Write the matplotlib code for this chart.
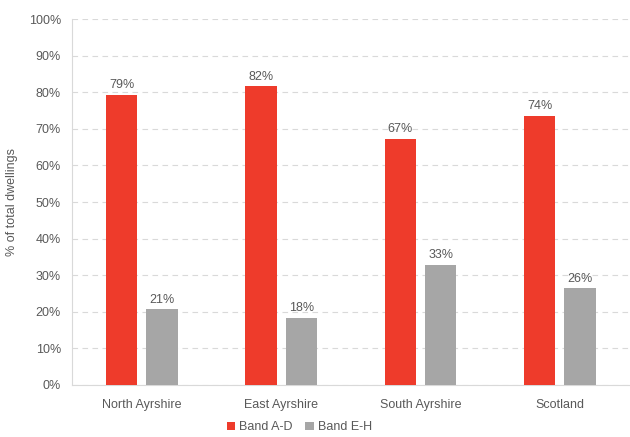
import matplotlib
matplotlib.use("Agg")
import matplotlib.pyplot as plt
import numpy as np

categories = ["North Ayrshire", "East Ayrshire", "South Ayrshire", "Scotland"]
band_ad = [79.3, 81.6, 67.2, 73.6]
band_eh = [20.7, 18.4, 32.8, 26.4]
series_names = ["Band A-D", "Band E-H"]
y_ticks = [0, 10, 20, 30, 40, 50, 60, 70, 80, 90, 100]

red = "#EE3B2B"
grey = "#A6A6A6"
txt = "#595959"

plt.rcParams['font.family'] = ['Liberation Sans', 'DejaVu Sans']

fig = plt.figure(figsize=(6.3, 4.37), dpi=100)
ax = fig.add_axes([0.1143, 0.119, 0.885, 0.8375])

x = np.arange(len(categories))
w = 0.225
off = 0.145
b1 = ax.bar(x - off, band_ad, w, color=red, label=series_names[0], zorder=3)
b2 = ax.bar(x + off, band_eh, w, color=grey, label=series_names[1], zorder=3)

for bars, vals in ((b1, band_ad), (b2, band_eh)):
    for r, v in zip(bars, vals):
        ax.text(r.get_x() + r.get_width() / 2, v + 1.0, f"{round(v):d}%",
                ha="center", va="bottom", fontsize=9, color=txt)

ax.set_xlim(-0.5, len(categories) - 0.5)
ax.set_ylim(0, 100)
ax.set_yticks(y_ticks)
ax.set_yticklabels([f"{t}%" for t in y_ticks])
ax.set_xticks(x)
ax.set_xticklabels(categories)
ax.tick_params(axis="both", length=0, labelsize=9, colors=txt)
ax.tick_params(axis="x", pad=10)
ax.tick_params(axis="y", pad=8)

ax.yaxis.grid(True, linestyle=(0, (5, 4)), color="#D9D9D9", linewidth=0.8, zorder=0)
ax.set_axisbelow(True)
for s in ["top", "right"]:
    ax.spines[s].set_visible(False)
ax.spines["left"].set_color("#D9D9D9")
ax.spines["bottom"].set_color("#D9D9D9")

ax.set_ylabel("% of total dwellings", fontsize=9, color=txt, labelpad=8)

leg = fig.legend(handles=[b1, b2], labels=series_names, loc="center",
                 bbox_to_anchor=(0.475, 0.022), ncol=2, frameon=False,
                 fontsize=9, handlelength=0.7, handleheight=0.7,
                 handletextpad=0.3, columnspacing=1.0, labelcolor=txt)

fig.savefig("out.png", dpi=100)
